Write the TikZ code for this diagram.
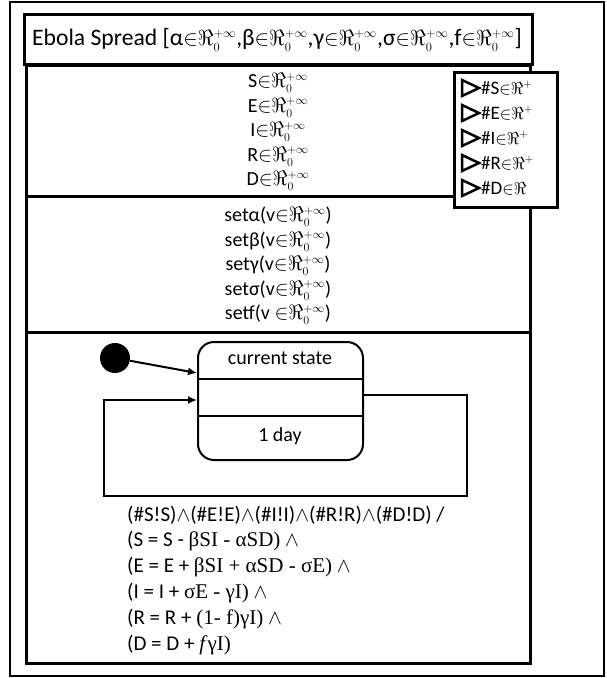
\documentclass[tikz,border=0pt]{standalone}
\usepackage{fontspec}
\usepackage{graphicx}
\setmainfont{Carlito}
\newfontfamily\timesfont{Liberation Serif}
\usetikzlibrary{arrows.meta}
\DeclareMathSizes{20}{20}{11.5}{9}
\DeclareMathSizes{22.5}{22.5}{13}{10}
\DeclareMathSizes{21}{21}{13}{10}
\DeclareMathSizes{19}{19}{11}{8}

\newcommand{\Rplus}{$\mathord{\in}\Re_{0}^{+\infty}$}

\tikzset{
  heavy/.style={line width=3pt},
  thinline/.style={line width=2pt},
  txt/.style={font=\fontsize{20}{22}\selectfont, inner sep=0pt},
  eqtxt/.style={font=\fontsize{21}{23}\selectfont, inner sep=0pt, anchor=west},
  smalltxt/.style={font=\fontsize{19}{20}\selectfont, inner sep=0pt, anchor=west},
  flow/.style={thinline, -{Latex[length=9pt,width=8pt]}},
}

\begin{document}
\begin{tikzpicture}[x=1pt,y=-1pt]
\useasboundingbox (0,0) rectangle (607,678);
% Draw outer frame and class box
\draw[line width=1.5pt] (10,2) rectangle (604,676);
\draw[heavy] (26,65) rectangle (530,663);
\draw[heavy] (26,196) -- (530,196);
\draw[heavy] (26,332) -- (530,332);
% Title
\draw[heavy, fill=white] (24,14) rectangle (532,64);
\node[txt, font=\fontsize{22.5}{24}\selectfont] (title) at (277,40) {\scalebox{1.05}{Ebola Spread [α\Rplus,β\Rplus,γ\Rplus,σ\Rplus,f\Rplus]}};
% Attributes
\foreach \v [count=\i from 0] in {S,E,I,R,D}
  \node[txt] (attr-\v) at (278,83+24.5*\i) {\v\Rplus};
% Operations
\foreach \p/\n [count=\i from 0] in {α(v/alpha,β(v/beta,γ(v/gamma,σ(v/sigma,f(v\ /f}
  \node[txt] (set-\n) at (278,217+24.5*\i) {set\p\Rplus)};
% Interface ports
\draw[heavy, fill=white] (454,72) rectangle (557,207);
\foreach \v [count=\i from 0] in {S,E,I,R}
{
  \draw[line width=2.5pt, line join=miter] (462,80+25*\i) -- (479,88+25*\i) -- (462,96+25*\i) -- cycle;
  \node[smalltxt] (port-\v) at (481,88+25*\i) {\#\v$\mathord{\in}\Re^{+}$};
}
\draw[line width=2.5pt, line join=miter] (462,180) -- (479,188) -- (462,196) -- cycle;
\node[smalltxt] (port-D) at (481,188) {\#D$\mathord{\in}\Re$};
% State machine
\node[draw, thinline, rounded corners=16pt, minimum width=165pt, minimum height=118pt] (state) at (280.5,401) {};
\draw[thinline] (state.west |- 0,379) -- (state.east |- 0,379);
\draw[thinline] (state.west |- 0,416) -- (state.east |- 0,416);
\node[txt] (current) at (280,358) {current state};
\node[txt] (day) at (280,436) {1 day};
\node[circle, fill, inner sep=0pt, minimum size=30pt] (init) at (115,358) {};
\coordinate (state-entry) at (state.west |- 0,373);
\draw[flow] (init) -- (state-entry);
% Self loop
\coordinate (loop-out) at (state.east |- 0,395);
\coordinate (loop-in) at (state.west |- 0,400);
\draw[flow] (loop-out) -| (467,496) -| (104,400) -- (loop-in);
% Transition label
\node[eqtxt] (trig) at (127,515) {(\#S!S)$\wedge$(\#E!E)$\wedge$(\#I!I)$\wedge$(\#R!R)$\wedge$(\#D!D) /};
\node[eqtxt] (eq-S) at (127,541) {(S = S - {\timesfont βSI - αSD)} $\wedge$};
\node[eqtxt] (eq-E) at (127,567) {(E = E + {\timesfont βSI + αSD - σE)} $\wedge$};
\node[eqtxt] (eq-I) at (127,593) {(I = I + {\timesfont σE - γI)} $\wedge$};
\node[eqtxt] (eq-R) at (127,619) {(R = R + {\timesfont (1- f)γI)} $\wedge$};
\node[eqtxt] (eq-D) at (127,645) {(D = D + {\timesfont \textit{f}γI)}};
\end{tikzpicture}
\end{document}
